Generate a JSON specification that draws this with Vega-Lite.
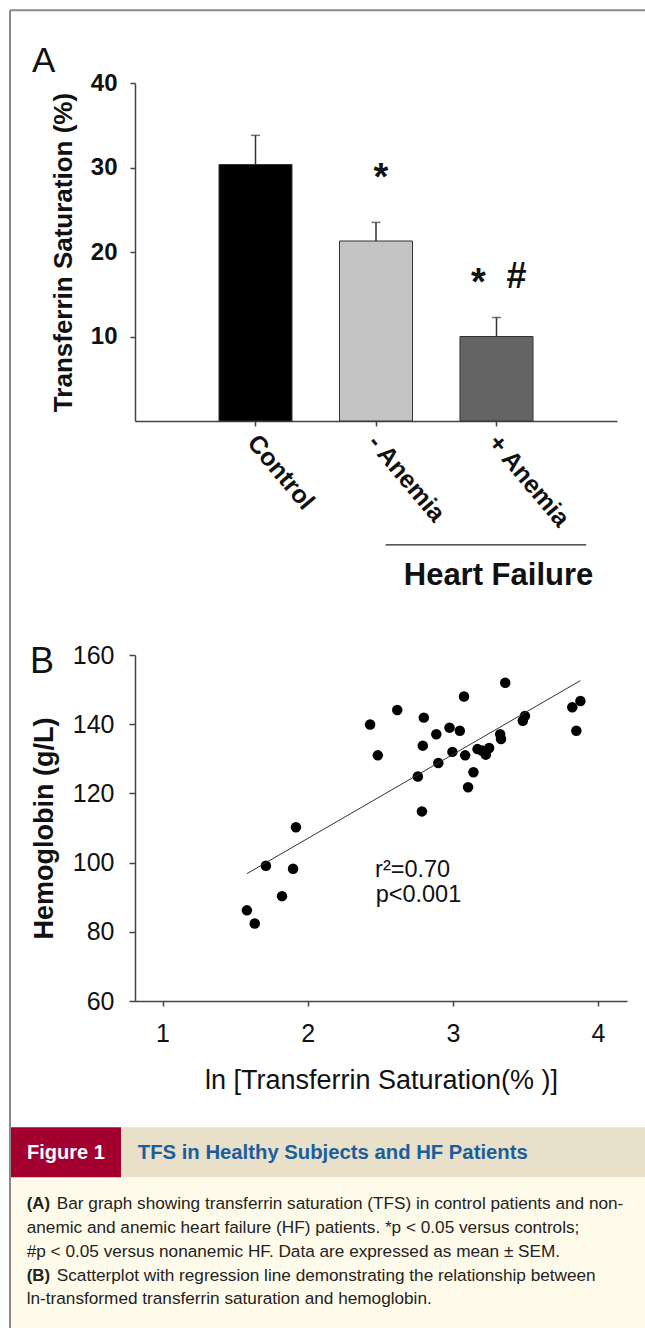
{
  "$schema": "https://vega.github.io/schema/vega-lite/v6.json",
  "padding": {"left": 9, "top": 9, "right": 0, "bottom": 0},
  "background": "white",
  "bounds": "flush",
  "spacing": 234,
  "config": {
    "view": {"stroke": null},
    "font": "Liberation Sans",
    "axis": {"domainColor": "#444", "tickColor": "#444", "domainWidth": 1.5, "tickWidth": 1.5, "labelColor": "#111", "titleColor": "#111", "grid": false, "labelFont": "Liberation Sans", "titleFont": "Liberation Sans"},
    "title": {"font": "Liberation Sans", "fontWeight": "normal", "color": "#111"}
  },
  "vconcat": [
    {
      "width": 482,
      "height": 338,
      "title": {"text": "A", "anchor": "start", "frame": "group", "fontSize": 35, "dx": -103, "dy": 12, "offset": 4},
      "data": {"values": [
        {"group": "Control", "mean": 30.35, "upper": 33.8},
        {"group": "- Anemia", "mean": 21.3, "upper": 23.5},
        {"group": "+ Anemia", "mean": 10.0, "upper": 12.25}
      ]},
      "encoding": {
        "x": {"field": "group", "type": "nominal", "sort": ["Control", "- Anemia", "+ Anemia"],
          "scale": {"domain": ["Control", "- Anemia", "+ Anemia"], "paddingInner": 0.394, "paddingOuter": 0.697},
          "axis": {"title": null, "labelAngle": 50, "labelFontSize": 25, "labelFontWeight": "bold", "labelAlign": "left", "labelBaseline": "top", "labelPadding": 4, "labelOffset": 6, "tickSize": 5}}
      },
      "layer": [
        {
          "mark": {"type": "bar", "stroke": "#333", "strokeWidth": 1},
          "encoding": {
            "y": {"field": "mean", "type": "quantitative", "scale": {"domain": [0, 40], "nice": false},
              "axis": {"title": "Transferrin Saturation (%)", "values": [10, 20, 30, 40], "titleFontSize": 26, "titleFontWeight": "bold", "labelFontSize": 24, "labelFontWeight": "bold", "tickSize": 5, "labelPadding": 13, "titlePadding": 14}},
            "color": {"field": "group", "type": "nominal", "scale": {"domain": ["Control", "- Anemia", "+ Anemia"], "range": ["#000000", "#c4c4c4", "#646464"]}, "legend": null}
          }
        },
        {
          "mark": {"type": "rule", "color": "#333", "strokeWidth": 1.5},
          "encoding": {"y": {"field": "mean", "type": "quantitative"}, "y2": {"field": "upper"}}
        },
        {
          "mark": {"type": "tick", "color": "#333", "size": 9, "thickness": 1.5, "orient": "horizontal"},
          "encoding": {"y": {"field": "upper", "type": "quantitative"}}
        },
        {
          "data": {"values": [{"group": "- Anemia", "y": 27.3, "sym": "*"}]},
          "mark": {"type": "text", "fontSize": 38, "fontWeight": "bold", "dx": 5, "baseline": "alphabetic", "color": "#111"},
          "encoding": {"y": {"field": "y", "type": "quantitative"}, "text": {"field": "sym"}}
        },
        {
          "data": {"values": [{"group": "+ Anemia", "y": 14.9, "sym": "*"}]},
          "mark": {"type": "text", "fontSize": 38, "fontWeight": "bold", "dx": -18, "baseline": "alphabetic", "color": "#111"},
          "encoding": {"y": {"field": "y", "type": "quantitative"}, "text": {"field": "sym"}}
        },
        {
          "data": {"values": [{"group": "+ Anemia", "y": 15.75, "sym": "#"}]},
          "mark": {"type": "text", "fontSize": 36, "fontWeight": "bold", "dx": 20, "baseline": "alphabetic", "color": "#111"},
          "encoding": {"y": {"field": "y", "type": "quantitative"}, "text": {"field": "sym"}}
        },
        {
          "data": {"values": [{"group": "- Anemia", "group2": "+ Anemia", "y": -14.66}]},
          "mark": {"type": "rule", "color": "#222", "strokeWidth": 1.2, "xOffset": 9.7, "x2Offset": 89.7},
          "encoding": {"y": {"field": "y", "type": "quantitative"}, "x2": {"field": "group2"}}
        },
        {
          "data": {"values": [{"group": "+ Anemia", "y": -19.4, "label": "Heart Failure"}]},
          "mark": {"type": "text", "fontSize": 31, "fontWeight": "bold", "dx": 2, "align": "center", "baseline": "alphabetic", "color": "#111"},
          "encoding": {"y": {"field": "y", "type": "quantitative"}, "text": {"field": "label"}}
        }
      ]
    },
    {
      "width": 492,
      "height": 346,
      "title": {"text": "B", "anchor": "start", "frame": "group", "fontSize": 36, "dx": -105, "dy": 42, "offset": 4},
      "layer": [
        {
          "data": {"values": [
            {"lnTfs": 3.361, "hb": 152.0}, {"lnTfs": 3.077, "hb": 148.0}, {"lnTfs": 2.617, "hb": 144.1},
            {"lnTfs": 2.43, "hb": 139.9}, {"lnTfs": 2.8, "hb": 141.9}, {"lnTfs": 2.886, "hb": 137.1},
            {"lnTfs": 2.977, "hb": 139.0}, {"lnTfs": 3.048, "hb": 138.1}, {"lnTfs": 2.483, "hb": 131.0},
            {"lnTfs": 2.793, "hb": 133.8}, {"lnTfs": 2.997, "hb": 132.0}, {"lnTfs": 3.085, "hb": 131.0},
            {"lnTfs": 3.17, "hb": 132.8}, {"lnTfs": 3.227, "hb": 131.2}, {"lnTfs": 3.25, "hb": 133.1},
            {"lnTfs": 3.2, "hb": 132.4}, {"lnTfs": 2.9, "hb": 128.8}, {"lnTfs": 2.759, "hb": 124.9},
            {"lnTfs": 3.142, "hb": 126.1}, {"lnTfs": 3.105, "hb": 121.8}, {"lnTfs": 2.787, "hb": 114.8},
            {"lnTfs": 3.326, "hb": 137.1}, {"lnTfs": 3.332, "hb": 135.7}, {"lnTfs": 3.497, "hb": 142.4},
            {"lnTfs": 3.482, "hb": 141.0}, {"lnTfs": 3.823, "hb": 144.9}, {"lnTfs": 3.879, "hb": 146.7},
            {"lnTfs": 3.851, "hb": 138.1}, {"lnTfs": 1.919, "hb": 110.2}, {"lnTfs": 1.712, "hb": 99.1},
            {"lnTfs": 1.899, "hb": 98.2}, {"lnTfs": 1.823, "hb": 90.3}, {"lnTfs": 1.581, "hb": 86.2},
            {"lnTfs": 1.635, "hb": 82.4}
          ]},
          "mark": {"type": "circle", "size": 110, "color": "#000", "opacity": 1},
          "encoding": {
            "x": {"field": "lnTfs", "type": "quantitative", "scale": {"domain": [0.81, 4.2], "nice": false, "zero": false},
              "axis": {"title": "ln [Transferrin Saturation(% )]", "values": [1, 2, 3, 4], "format": "d", "labelFontSize": 25, "titleFontSize": 27, "titleFontWeight": "normal", "tickSize": 5, "labelPadding": 15, "titlePadding": 21}},
            "y": {"field": "hb", "type": "quantitative", "scale": {"domain": [60, 160], "nice": false, "zero": false},
              "axis": {"title": "Hemoglobin (g/L)", "values": [60, 80, 100, 120, 140, 160], "labelFontSize": 25, "titleFontSize": 27, "titleFontWeight": "bold", "tickSize": 6, "labelPadding": 15, "titlePadding": 14}}
          }
        },
        {
          "data": {"values": [{"lnTfs": 1.581, "hb": 96.8}, {"lnTfs": 3.879, "hb": 152.6}]},
          "mark": {"type": "line", "color": "#333", "strokeWidth": 1},
          "encoding": {"x": {"field": "lnTfs", "type": "quantitative"}, "y": {"field": "hb", "type": "quantitative"}}
        },
        {
          "data": {"values": [{"lnTfs": 2.464, "hb": 95.9, "label": "r²=0.70"}, {"lnTfs": 2.468, "hb": 88.5, "label": "p<0.001"}]},
          "mark": {"type": "text", "align": "left", "baseline": "alphabetic", "fontSize": 23.5, "color": "#111"},
          "encoding": {"x": {"field": "lnTfs", "type": "quantitative"}, "y": {"field": "hb", "type": "quantitative"}, "text": {"field": "label"}}
        }
      ]
    },
    {
      "width": 510,
      "height": 93.3,
      "encoding": {
        "x": {"field": "x", "type": "quantitative", "scale": {"domain": [0.19685, 1], "nice": false, "zero": false}, "axis": null},
        "y": {"field": "y", "type": "quantitative", "scale": {"domain": [0.92921, 1], "nice": false, "zero": false, "reverse": true}, "axis": null}
      },
      "layer": [
        {
          "data": {"values": [{"x": 0, "x2": 1, "y": 0.88543, "y2": 1}]},
          "mark": {"type": "rect", "color": "#fffbea"},
          "encoding": {"x2": {"field": "x2"}, "y2": {"field": "y2"}}
        },
        {
          "data": {"values": [{"x": 0, "x2": 0.1748, "y": 0.8475, "y2": 0.88543}]},
          "mark": {"type": "rect", "color": "#a3002f"},
          "encoding": {"x2": {"field": "x2"}, "y2": {"field": "y2"}}
        },
        {
          "data": {"values": [{"x": 0.1748, "x2": 1, "y": 0.8475, "y2": 0.88543}]},
          "mark": {"type": "rect", "color": "#e8e0c8"},
          "encoding": {"x2": {"field": "x2"}, "y2": {"field": "y2"}}
        },
        {
          "data": {"values": [{"x": 0, "x2": 0, "y": 0, "y2": 1}, {"x": 0, "x2": 1, "y": 0, "y2": 0}]},
          "mark": {"type": "rule", "color": "#8a8a8a", "strokeWidth": 2},
          "encoding": {"x2": {"field": "x2"}, "y2": {"field": "y2"}}
        },
        {
          "data": {"values": [{"x": 0.02677, "y": 0.87124, "t": "Figure 1"}]},
          "mark": {"type": "text", "align": "left", "baseline": "alphabetic", "fontSize": 20, "fontWeight": "bold", "color": "#ffffff"},
          "encoding": {"text": {"field": "t"}}
        },
        {
          "data": {"values": [{"x": 0.20126, "y": 0.87124, "t": "TFS in Healthy Subjects and HF Patients"}]},
          "mark": {"type": "text", "align": "left", "baseline": "alphabetic", "fontSize": 20.3, "fontWeight": "bold", "color": "#1b5e9f"},
          "encoding": {"text": {"field": "t"}}
        },
        {
          "data": {"values": [{"x": 0.0263, "y": 0.90971, "t": "(A)"}, {"x": 0.0263, "y": 0.96434, "t": "(B)"}]},
          "mark": {"type": "text", "align": "left", "baseline": "alphabetic", "fontSize": 16.8, "fontWeight": "bold", "color": "#222"},
          "encoding": {"text": {"field": "t"}}
        },
        {
          "data": {"values": [
            {"x": 0.0737, "y": 0.90971, "t": "Bar graph showing transferrin saturation (TFS) in control patients and non-"},
            {"x": 0.0263, "y": 0.92792, "t": "anemic and anemic heart failure (HF) patients. *p < 0.05 versus controls;"},
            {"x": 0.0263, "y": 0.94613, "t": "#p < 0.05 versus nonanemic HF. Data are expressed as mean ± SEM."},
            {"x": 0.0737, "y": 0.96434, "t": "Scatterplot with regression line demonstrating the relationship between"},
            {"x": 0.0263, "y": 0.98179, "t": "ln-transformed transferrin saturation and hemoglobin."}
          ]},
          "mark": {"type": "text", "align": "left", "baseline": "alphabetic", "fontSize": 17.2, "color": "#222"},
          "encoding": {"text": {"field": "t"}}
        }
      ]
    }
  ]
}
